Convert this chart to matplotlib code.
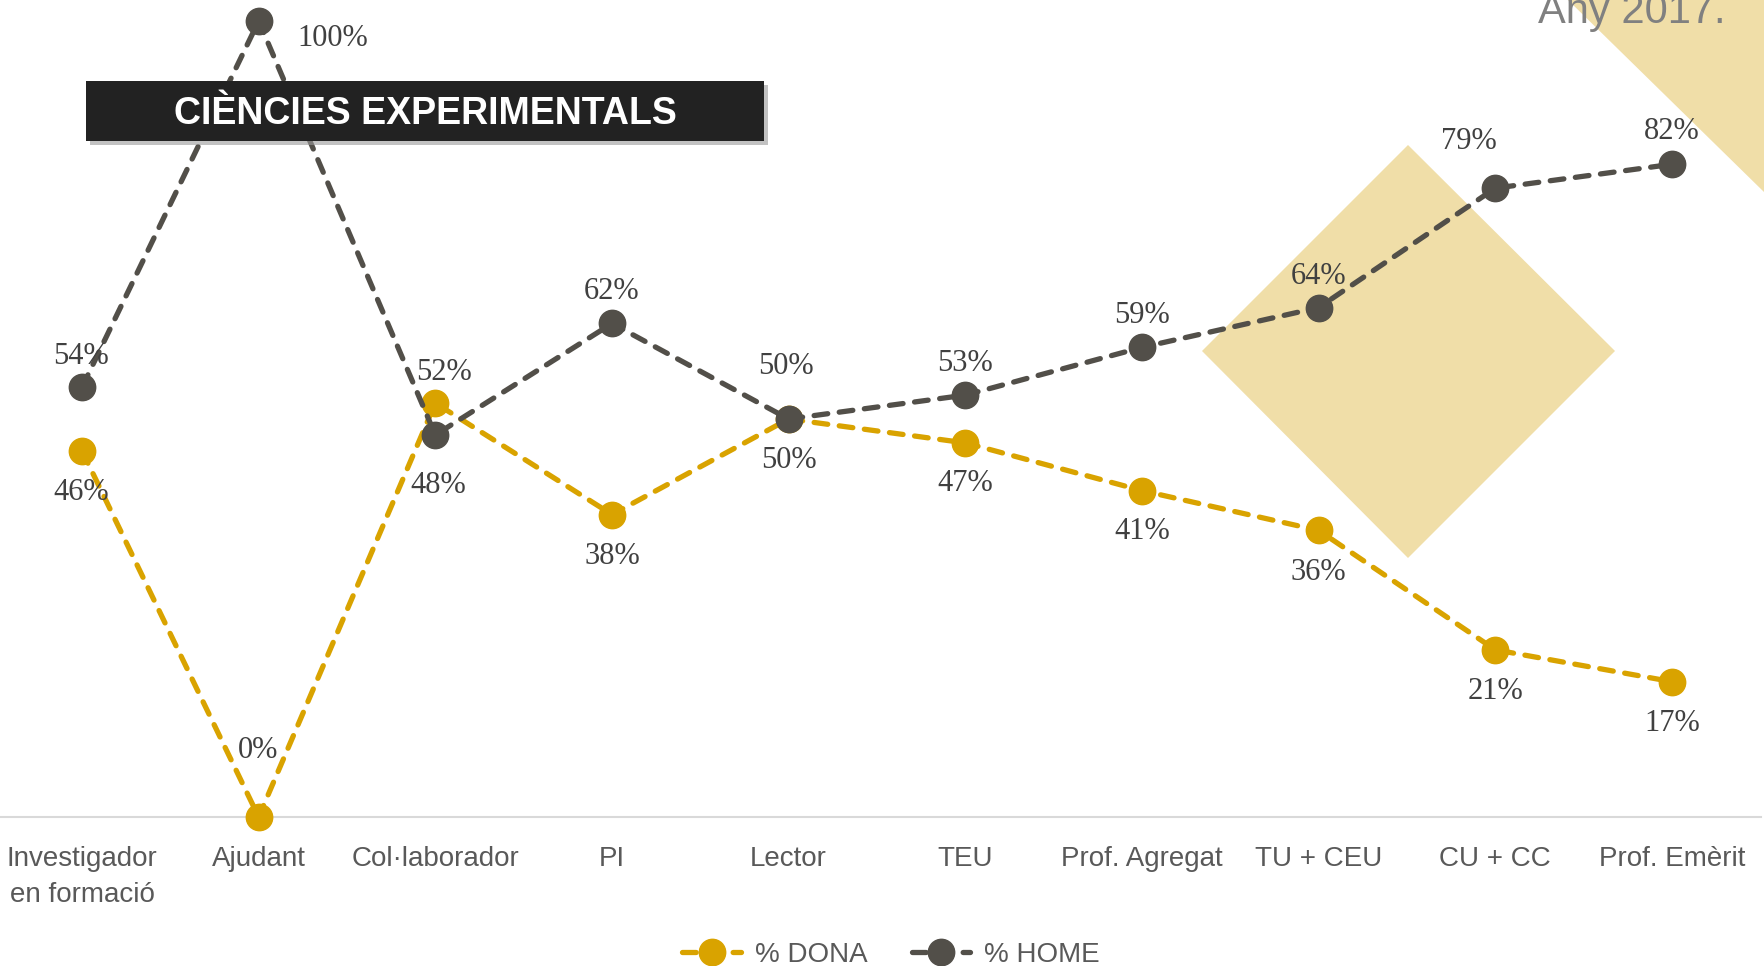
import matplotlib
matplotlib.use("Agg")
import matplotlib.pyplot as plt
from matplotlib.patches import Polygon, Rectangle
from matplotlib import font_manager

categories = ["Investigador\nen formació", "Ajudant", "Col·laborador", "PI", "Lector",
              "TEU", "Prof. Agregat", "TU + CEU", "CU + CC", "Prof. Emèrit"]
pct_dona = [46, 0, 52, 38, 50, 47, 41, 36, 21, 17]
pct_home = [54, 100, 48, 62, 50, 53, 59, 64, 79, 82]

# label offsets in pixels (layout only)
off_home = [(-1, 31), (74, -18), (3, -51), (0, 32), (-3, 53), (0, 32), (0, 32), (0, 31), (-26, 47), (0, 33)]
off_dona = [(-1, -42), (-1, 66), (9, 31), (0, -42), (0, -42), (0, -41), (0, -41), (0, -42), (0, -42), (0, -42)]

W, H = 1764, 966
DPI = 100
names = {f.name for f in font_manager.fontManager.ttflist}
narrow = "Liberation Sans Narrow" if "Liberation Sans Narrow" in names else None
cond_family = [narrow, "Liberation Sans"] if narrow else ["Liberation Sans"]
tick_size = 23 if narrow else 20

C_DONA = "#D9A300"
C_HOME = "#524F49"
C_BEIGE = "#F0DEA8"
C_TXT = "#595959"

fig = plt.figure(figsize=(W / DPI, H / DPI), dpi=DPI)
fig.patch.set_facecolor("white")

def fx(px):
    return px / W

def fy(py):
    return 1 - py / H

# axes: x=0 at 82px, x=9 at 1672px ; y=0 at 817px, y=100 at 21px
step = (1672 - 82) / 9
x0 = -82 / step
x1 = 9 + (1761 - 1672) / step
ax = fig.add_axes([0, fy(817), fx(1761), (817 - 21) / H])
ax.set_zorder(1)
ax.set_xlim(x0, x1)
ax.set_ylim(0, 100)
ax.patch.set_alpha(0)

# decorative shapes (behind the axes)
fig.patches.append(Polygon([(fx(1408), fy(145)), (fx(1615), fy(351)), (fx(1408), fy(558)), (fx(1202), fy(351))],
                           closed=True, transform=fig.transFigure, facecolor=C_BEIGE, edgecolor="none", zorder=-1))
fig.patches.append(Polygon([(fx(1568), fy(0)), (fx(1764), fy(192)), (fx(1764), fy(0))],
                           closed=True, transform=fig.transFigure, facecolor=C_BEIGE, edgecolor="none", zorder=-1))

xs = list(range(len(categories)))
line_kw = dict(linestyle=(0, (2.6, 2.2)), linewidth=3.8, dash_capstyle="round",
               marker="o", markersize=19, clip_on=False, zorder=3)
ax.plot(xs, pct_dona, color=C_DONA, label="% DONA", **line_kw)
ax.plot(xs, pct_home, color=C_HOME, label="% HOME", **line_kw)

lab_kw = dict(textcoords="offset pixels", ha="center", va="center",
              fontsize=22, family="Liberation Serif", color="#404040", zorder=4, annotation_clip=False)
for i, v in enumerate(pct_home):
    ax.annotate(f"{v}%", (i, v), xytext=off_home[i], **lab_kw)
for i, v in enumerate(pct_dona):
    ax.annotate(f"{v}%", (i, v), xytext=off_dona[i], **lab_kw)

for s in ["top", "right", "left"]:
    ax.spines[s].set_visible(False)
ax.spines["bottom"].set_color("#D9D9D9")
ax.spines["bottom"].set_linewidth(1.5)
ax.set_yticks([])
ax.set_xticks(xs)
ax.set_xticklabels(categories, family=cond_family, fontsize=tick_size, color=C_TXT, linespacing=1.5)
ax.tick_params(axis="x", length=0, pad=21)

leg = ax.legend(loc="center", bbox_to_anchor=(fx(891), fy(955)), bbox_transform=fig.transFigure,
                ncol=2, frameon=False, handlelength=2.1, columnspacing=1.6, handletextpad=0.5,
                prop={"family": cond_family, "size": tick_size})
for t in leg.get_texts():
    t.set_color(C_TXT)

# title box (above the axes)
fig.patches.append(Rectangle((fx(90), fy(145)), fx(678), (60) / H, transform=fig.transFigure,
                             facecolor="#9A9A9A", edgecolor="none", alpha=0.6, zorder=5))
fig.patches.append(Rectangle((fx(86), fy(141)), fx(678), (60) / H, transform=fig.transFigure,
                             facecolor="#222222", edgecolor="none", zorder=6))
fig.text(fx(425), fy(114), "CIÈNCIES EXPERIMENTALS", ha="center", va="center", color="white",
         fontsize=27 if not narrow else 30, fontweight="bold", family=cond_family, zorder=7)

fig.text(fx(1725), fy(23), "Any 2017.", ha="right", va="baseline", color="#808080",
         fontsize=30, family="Liberation Sans", zorder=7)

fig.savefig("out.png", dpi=DPI)
